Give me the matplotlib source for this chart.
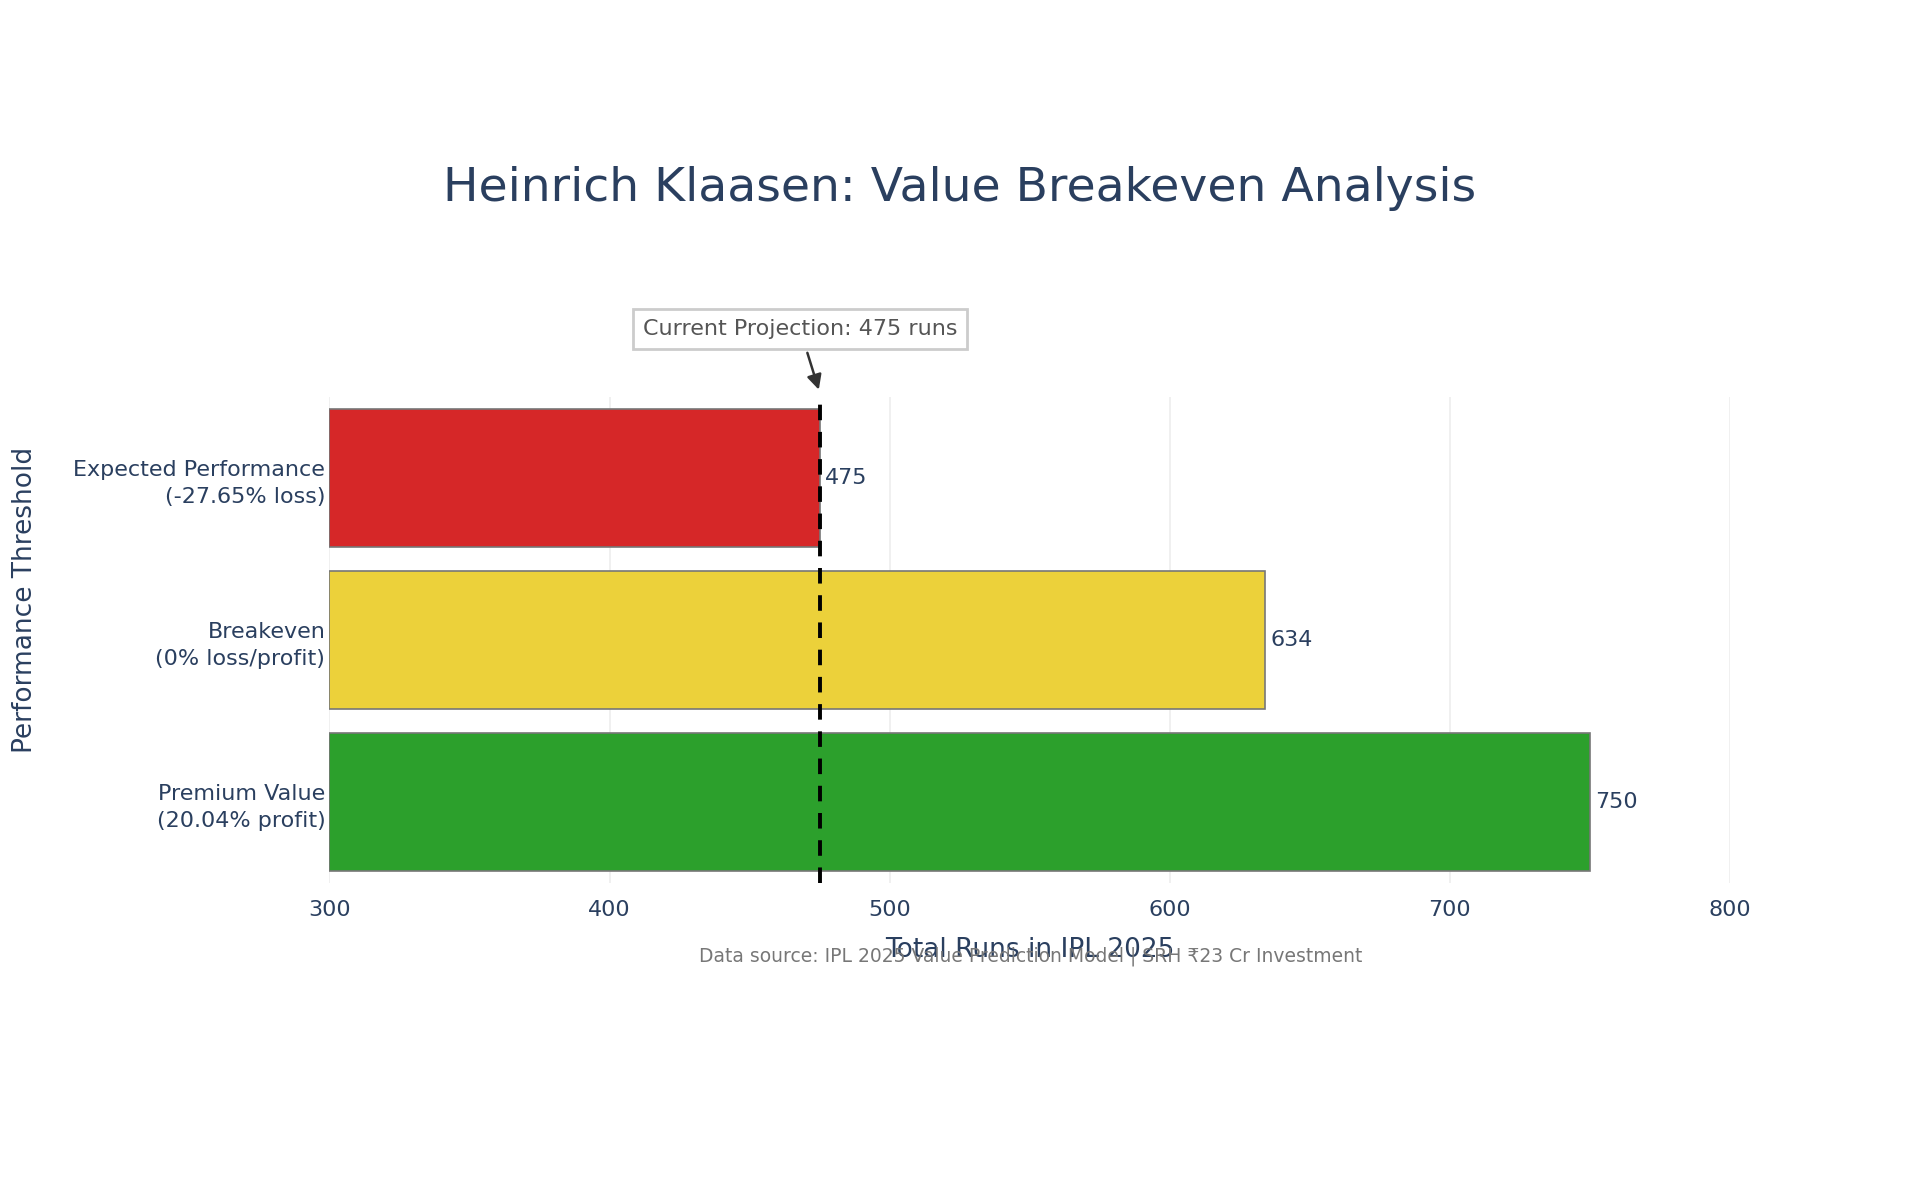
import matplotlib.pyplot as plt

# --- DATA ---
labels = ["Expected Performance\n(-27.65% loss)", "Breakeven\n(0% loss/profit)", "Premium Value\n(20.04% profit)"]
runs = [475, 634, 750]
colors = ["#d62728", "#ecd13a", "#2ca02c"]
projection = 475
xticks = [300, 400, 500, 600, 700, 800]

txt = "#2a3f5f"
fig = plt.figure(figsize=(19.2, 12), dpi=100)
ax = fig.add_axes([0.1716, 0.264, 0.7294, 0.405])

ypos = [2, 1, 0]
ax.barh(ypos, [r - 300 for r in runs], left=300, height=0.85, color=colors,
        edgecolor="#777777", linewidth=1.2, zorder=2)
for y, r in zip(ypos, runs):
    ax.text(r + 2, y, str(r), va="center", ha="left", fontsize=16, color=txt)

ax.axvline(projection, color="black", linestyle=(0, (4, 3)), linewidth=2.8, zorder=3)
ax.annotate("Current Projection: 475 runs", xy=(projection, 2.53), xytext=(468, 2.92),
            xycoords="data", annotation_clip=False, ha="center", va="center",
            fontsize=16, color="#555555",
            bbox=dict(boxstyle="square,pad=0.45", fc="white", ec="#cccccc", lw=2),
            arrowprops=dict(arrowstyle="-|>", color="#333333", lw=1.8, mutation_scale=22))

ax.set_xlim(300, 800)
ax.set_ylim(-0.5, 2.5)
ax.set_xticks(xticks)
ax.set_yticks(ypos)
ax.set_yticklabels(labels, linespacing=1.45)
ax.tick_params(length=0, labelsize=16, colors=txt, pad=3)
ax.tick_params(axis="x", pad=12)
ax.grid(axis="x", color="#eeeeee", linewidth=1.2, zorder=0)
for s in ax.spines.values():
    s.set_visible(False)

ax.set_xlabel("Total Runs in IPL 2025", fontsize=19, color=txt, labelpad=12)
fig.text(0.006, 0.5, "Performance Threshold", rotation=90, fontsize=19, color=txt,
         ha="left", va="center")
fig.suptitle("Heinrich Klaasen: Value Breakeven Analysis", x=0.5, y=0.862, fontsize=34,
             color=txt)
fig.text(0.537, 0.203, "Data source: IPL 2025 Value Prediction Model | SRH \u20b923 Cr Investment",
         ha="center", va="center", fontsize=13.5, color="#777777")

fig.savefig("out.png", dpi=100)
